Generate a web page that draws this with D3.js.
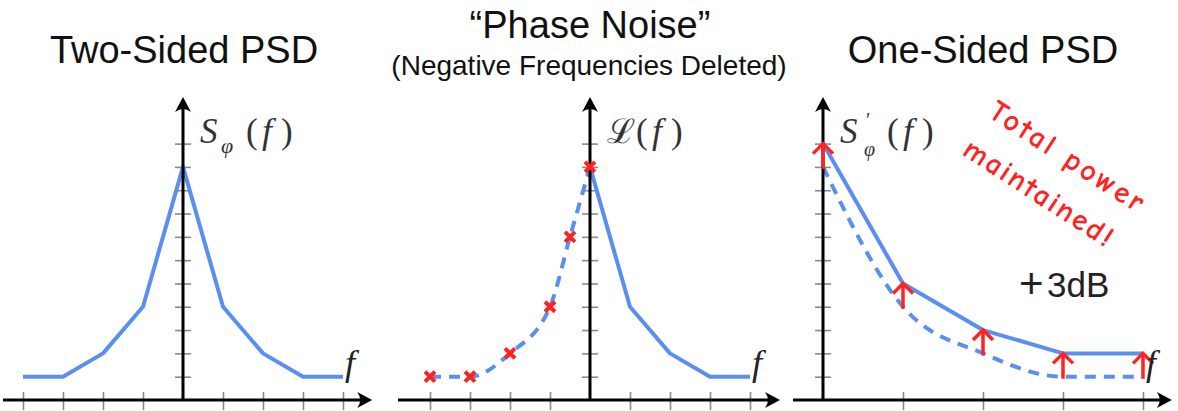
<!DOCTYPE html>
<html>
<head>
<meta charset="utf-8">
<script src="https://cdn.jsdelivr.net/npm/d3@7"></script>
<style>
  html, body { margin: 0; padding: 0; background: #fff; }
  svg { display: block; }
</style>
</head>
<body>
<svg id="fig" width="1178" height="411"></svg>
<script>
// Frequency bins, in units of the bin spacing
const freqTwoSided = [-4, -3, -2, -1, 0, 1, 2, 3, 4];
const psdTwoSided  = [1, 1, 2, 4, 10, 4, 2, 1, 1];

const freqPositive = [0, 1, 2, 3, 4];
const psdPositive  = [10, 4, 2, 1, 1];      // right half of the two-sided PSD

const freqDeleted  = [-4, -3, -2, -1, -0.5, 0];
const psdDeleted   = [1, 1, 2, 4, 7, 10];   // negative-frequency samples removed

const psdOneSided  = [11, 5, 3, 2, 2];      // one-sided PSD, +3 dB above the positive half

const yTickValues     = [1, 2, 3, 4, 5, 6, 7, 8, 9, 10, 11];
const xTicksTwoSided  = [-4, -3, -2, -1, 1, 2, 3, 4];
const xTicksOneSided  = [1, 2, 3, 4];

const panelTitles = ["Two-Sided PSD", "\u201CPhase Noise\u201D", "One-Sided PSD"];
const subtitle    = "(Negative Frequencies Deleted)";
const gainLabel   = ["+", "3dB"];
const noteLines   = ["Total power", "maintained!"];

// ---- styling ----
const BLUE = "#5a8ff0";
const RED = "#ff2222";
const TICK = "#8a8a8a";
const mathFont = "'Liberation Serif', 'DejaVu Serif', serif";
const sansFont = "'Liberation Sans', Arial, sans-serif";

const svg = d3.select("#fig");
svg.append("rect").attr("width", 1178).attr("height", 411).attr("fill", "#fff");

// shared vertical scale (all three panels)
const y = d3.scaleLinear().domain([0, 13]).range([400, 97]);

// horizontal scales, one per panel
const x1 = d3.scaleLinear().domain([-4, 4]).range([23, 343]);
const x2 = d3.scaleLinear().domain([-4, 4]).range([430, 750]);
const x3 = d3.scaleLinear().domain([0, 4]).range([823, 1143]);

const solidLine = (x) => d3.line().x(d => x(d[0])).y(d => y(d[1]));
const smoothLine = (x) => d3.line().x(d => x(d[0])).y(d => y(d[1])).curve(d3.curveMonotoneX);

function ticks(g, x, xTicks) {
  const x0 = x(0);
  // tick marks crossing the axes
  const gx = g.append("g")
    .attr("transform", `translate(0,392)`)
    .call(d3.axisBottom(x).tickValues(xTicks).tickSizeInner(18).tickSizeOuter(0).tickFormat(""));
  const gy = g.append("g")
    .attr("transform", `translate(${x0 + 8},0)`)
    .call(d3.axisLeft(y).tickValues(yTickValues).tickSizeInner(16).tickSizeOuter(0).tickFormat(""));
  [gx, gy].forEach(a => {
    a.select(".domain").remove();
    a.selectAll(".tick line").attr("stroke", TICK).attr("stroke-width", 1.6);
  });
}

function axes(g, x, xStart, xEnd) {
  const x0 = x(0), yBase = y(0), yTop = y(13);
  const tipX = x(xEnd);
  g.append("line")
    .attr("x1", x(xStart)).attr("x2", tipX - 6)
    .attr("y1", yBase).attr("y2", yBase)
    .attr("stroke", "#000").attr("stroke-width", 3);
  g.append("line")
    .attr("x1", x0).attr("x2", x0)
    .attr("y1", yBase + 1).attr("y2", yTop + 6)
    .attr("stroke", "#000").attr("stroke-width", 3);
  // arrowheads
  g.append("path")
    .attr("d", `M${tipX},${yBase} L${tipX - 15},${yBase - 8} Q${tipX - 9},${yBase} ${tipX - 15},${yBase + 8} Z`)
    .attr("fill", "#000");
  g.append("path")
    .attr("d", `M${x0},${yTop} L${x0 - 8},${yTop + 15} Q${x0},${yTop + 9} ${x0 + 8},${yTop + 15} Z`)
    .attr("fill", "#000");
}

function axisF(g, xPos) {
  g.append("text")
    .attr("x", xPos).attr("y", 375)
    .attr("font-family", mathFont).attr("font-style", "italic")
    .attr("font-size", 36).attr("fill", "#222")
    .text("f");
}

// math label built from positioned glyph runs
function mathLabel(g, parts) {
  const t = g.append("text").attr("font-family", mathFont).attr("fill", "#333");
  parts.forEach(p => {
    t.append("tspan")
      .attr("x", p.x).attr("y", p.y)
      .attr("font-size", p.size)
      .attr("font-style", p.italic ? "italic" : "normal")
      .text(p.t);
  });
}

function title(txt, cx, baseline, size) {
  svg.append("text")
    .attr("x", cx).attr("y", baseline)
    .attr("text-anchor", "middle")
    .attr("font-family", sansFont).attr("font-size", size)
    .attr("fill", "#111")
    .text(txt);
}

// ---------------- Panel 1: two-sided PSD ----------------
const p1 = svg.append("g");
ticks(p1, x1, xTicksTwoSided);
p1.append("path")
  .datum(d3.zip(freqTwoSided, psdTwoSided))
  .attr("d", solidLine(x1))
  .attr("fill", "none").attr("stroke", BLUE).attr("stroke-width", 4)
  .attr("stroke-linejoin", "round");
axes(p1, x1, -4.5, 4.73);
axisF(p1, 345);
mathLabel(p1, [
  { t: "S", x: 200, y: 143, size: 35, italic: true },
  { t: "\u03C6", x: 221, y: 153, size: 22, italic: true },
  { t: "(", x: 246, y: 143, size: 35 },
  { t: "f", x: 262, y: 143, size: 36, italic: true },
  { t: ")", x: 281, y: 143, size: 35 }
]);
title(panelTitles[0], 184, 63, 38);

// ---------------- Panel 2: phase noise ----------------
const p2 = svg.append("g");
ticks(p2, x2, xTicksTwoSided);
p2.append("path")
  .datum(d3.zip(freqDeleted, psdDeleted))
  .attr("d", smoothLine(x2))
  .attr("fill", "none").attr("stroke", BLUE).attr("stroke-width", 4)
  .attr("stroke-dasharray", "11,8");
p2.append("path")
  .datum(d3.zip(freqPositive, psdPositive))
  .attr("d", solidLine(x2))
  .attr("fill", "none").attr("stroke", BLUE).attr("stroke-width", 4)
  .attr("stroke-linejoin", "round");
axes(p2, x2, -4.8, 4.75);
p2.selectAll("path.cross")
  .data(d3.zip(freqDeleted, psdDeleted))
  .join("path")
  .attr("class", "cross")
  .attr("transform", d => `translate(${x2(d[0])},${y(d[1])})`)
  .attr("d", "M-5,-5L5,5M-5,5L5,-5")
  .attr("stroke", RED).attr("stroke-width", 4).attr("fill", "none");
axisF(p2, 752);
mathLabel(p2, [
  { t: "\u2112", x: 607, y: 143, size: 34, italic: false },
  { t: "(", x: 636, y: 143, size: 35 },
  { t: "f", x: 652, y: 143, size: 36, italic: true },
  { t: ")", x: 671, y: 143, size: 35 }
]);
title(panelTitles[1], 590, 38, 38);
title(subtitle, 589, 75, 28);

// ---------------- Panel 3: one-sided PSD ----------------
const p3 = svg.append("g");
ticks(p3, x3, xTicksOneSided);
p3.append("path")
  .datum(d3.zip(freqPositive, psdPositive))
  .attr("d", smoothLine(x3))
  .attr("fill", "none").attr("stroke", BLUE).attr("stroke-width", 4)
  .attr("stroke-dasharray", "11,8");
p3.append("path")
  .datum(d3.zip(freqPositive, psdOneSided))
  .attr("d", solidLine(x3))
  .attr("fill", "none").attr("stroke", BLUE).attr("stroke-width", 4)
  .attr("stroke-linejoin", "round");
axes(p3, x3, -0.375, 4.36);
// +3 dB arrows from the positive half up to the one-sided PSD
p3.selectAll("g.lift")
  .data(d3.zip(freqPositive, psdPositive, psdOneSided))
  .join("g")
  .attr("class", "lift")
  .each(function (d) {
    const g = d3.select(this);
    const cx = x3(d[0]), yLow = y(d[1]) + 2, yTip = y(d[2]);
    g.append("line")
      .attr("x1", cx).attr("x2", cx).attr("y1", yLow).attr("y2", yTip + 1)
      .attr("stroke", RED).attr("stroke-width", 3.5);
    g.append("path")
      .attr("d", `M${cx - 10},${yTip + 10} L${cx},${yTip} L${cx + 10},${yTip + 10}`)
      .attr("fill", "none").attr("stroke", RED).attr("stroke-width", 3.5)
      .attr("stroke-linejoin", "miter");
  });
axisF(p3, 1146);
mathLabel(p3, [
  { t: "S", x: 840, y: 143, size: 35, italic: true },
  { t: "\u2032", x: 866, y: 127, size: 20, italic: false },
  { t: "\u03C6", x: 864, y: 156, size: 20, italic: true },
  { t: "(", x: 887, y: 143, size: 35 },
  { t: "f", x: 903, y: 143, size: 36, italic: true },
  { t: ")", x: 922, y: 143, size: 35 }
]);
title(panelTitles[2], 983, 63, 38);

// +3dB annotation
const gain = p3.append("text")
  .attr("font-family", sansFont).attr("fill", "#222");
gain.append("tspan").attr("x", 1019).attr("y", 298).attr("font-size", 42).text(gainLabel[0]);
gain.append("tspan").attr("x", 1047).attr("y", 297).attr("font-size", 35).text(gainLabel[1]);

// rotated red note
const noteAngle = 33;
[[987, 116, 178], [961, 154, 172]].forEach((pos, i) => {
  p3.append("text")
    .attr("transform", `translate(${pos[0]},${pos[1]}) rotate(${noteAngle})`)
    .attr("font-family", "'Comic Sans MS', 'Comic Neue', Lato, 'Open Sans', sans-serif")
    .attr("font-size", 30)
    .attr("font-weight", 600)
    .attr("fill", RED)
    .attr("textLength", pos[2])
    .attr("lengthAdjust", "spacing")
    .text(noteLines[i]);
});
</script>
</body>
</html>
